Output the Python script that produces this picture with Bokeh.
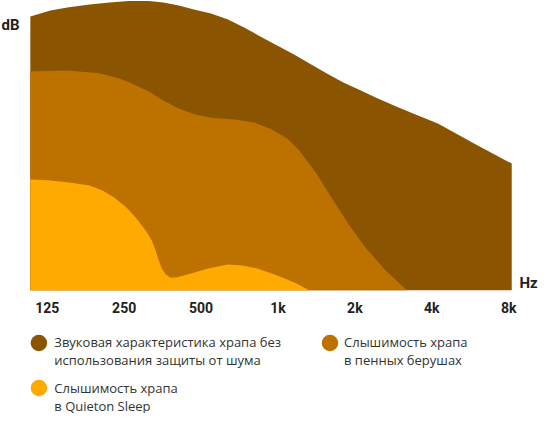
from bokeh.plotting import figure
from bokeh.models import Range1d, FixedTicker
from bokeh.layouts import column
from bokeh.embed import file_html
from bokeh.resources import INLINE
from bokeh.core.properties import value

# ---------------- data ----------------
# x: position in octaves relative to 125 Hz (0 = 125 Hz ... 6 = 8 kHz)
# y: relative sound level (dB, arbitrary scale, 0 = axis baseline)
freq_ticks = [0, 1, 2, 3, 4, 5, 6]
freq_labels = ["125", "250", "500", "1k", "2k", "4k", "8k"]

snore_x = [-0.22, 0.04, 0.26, 0.55, 0.81, 1.06, 1.32, 1.51, 1.71, 1.92, 2.13, 2.35, 2.56,
           2.77, 2.99, 3.21, 3.41, 3.63, 3.85, 4.05, 4.27, 4.53, 4.82, 5.08, 5.55, 6.04]
snore_db = [97.2, 99.3, 100.4, 101.4, 102.1, 102.7, 102.7, 102.1, 101.1, 99.6, 98.2, 96.1, 93.3,
            90.1, 86.9, 83.7, 80.5, 77.0, 73.8, 71.3, 68.4, 65.3, 62.1, 59.2, 52.1, 45.0]

foam_x = [-0.22, 0.26, 0.68, 0.94, 1.10, 1.32, 1.51, 1.71, 1.92, 2.13, 2.44, 2.69, 2.90,
          3.12, 3.28, 3.50, 3.72, 3.92, 4.14, 4.40, 4.68]
foam_db = [77.7, 78.0, 77.0, 75.2, 73.4, 70.6, 67.4, 64.5, 62.4, 61.3, 60.6, 59.6, 57.4,
           53.9, 49.6, 41.5, 31.9, 23.4, 15.2, 7.1, 0.0]

quieton_x = [-0.22, 0.04, 0.29, 0.55, 0.72, 0.87, 1.03, 1.15, 1.28, 1.36, 1.41, 1.45, 1.49,
             1.54, 1.60, 1.68, 1.87, 2.09, 2.35, 2.54, 2.73, 2.92, 3.08, 3.24, 3.41]
quieton_db = [39.4, 39.0, 38.3, 37.2, 35.5, 33.0, 29.4, 25.9, 21.3, 17.7, 14.2, 10.6, 7.8,
              5.7, 4.6, 4.6, 6.0, 7.8, 9.2, 8.9, 7.8, 6.0, 4.3, 2.5, 0.0]

legend_labels = ["Звуковая характеристика храпа без\nиспользования защиты от шума",
                 "Слышимость храпа\nв пенных берушах",
                 "Слышимость храпа\nв Quieton Sleep"]

axis_names = ["Hz", "dB"]

colors = ["#8B5400", "#BD7200", "#FFAA00"]

# ---------------- main chart ----------------
W = 539
MAIN_H = 322
p = figure(width=W, height=MAIN_H, output_backend="svg", toolbar_location=None,
           x_range=Range1d(-0.608, 6.401), y_range=Range1d(0, 102.84),
           y_axis_location=None, title=None,
           min_border_left=0, min_border_right=0, min_border_top=0, min_border_bottom=32)
p.outline_line_color = None
p.xgrid.visible = False
p.ygrid.visible = False
p.background_fill_color = "white"
p.border_fill_color = "white"

p.varea(x=snore_x, y1=0, y2=snore_db, fill_color=colors[0])
p.varea(x=foam_x, y1=0, y2=foam_db, fill_color=colors[1])
p.varea(x=quieton_x, y1=0, y2=quieton_db, fill_color=colors[2])

ax = p.xaxis[0]
ax.ticker = FixedTicker(ticks=freq_ticks)
ax.major_label_overrides = {t: l for t, l in zip(freq_ticks, freq_labels)}
ax.axis_line_color = None
ax.major_tick_line_color = None
ax.minor_tick_line_color = None
ax.major_tick_out = 0
ax.major_tick_in = 0
ax.major_label_standoff = 9
ax.major_label_text_font = "Roboto"
ax.major_label_text_font_style = "bold"
ax.major_label_text_font_size = "14px"
ax.major_label_text_color = "#222222"

# axis unit names (Hz at the end of the x axis, dB at the top left)
p.text(x=[6.14, -0.595], y=[2.6, 94.0], text=axis_names, text_font=value("Roboto"),
       text_font_style="bold", text_font_size="15px", text_color="#222222",
       text_baseline="alphabetic", text_align="left")

# ---------------- legend ----------------
LH = 413 - MAIN_H
lg = figure(width=W, height=LH, output_backend="svg", toolbar_location=None,
            x_range=Range1d(0, W), y_range=Range1d(LH, 0),
            x_axis_location=None, y_axis_location=None, title=None,
            min_border_left=0, min_border_right=0, min_border_top=0, min_border_bottom=0)
lg.outline_line_color = None
lg.xgrid.visible = False
lg.ygrid.visible = False

mx = [38.4, 329.5, 38.4]
my = [20.5, 20.5, 65.5]
tx = [53.8, 343.5, 53.8]
ty = [19.0, 19.0, 65.0]
line_gap = 18.0

lg.scatter(x=mx, y=my, size=16.5, marker="circle", fill_color=colors, line_color=None)

txt_x, txt_y, txt = [], [], []
for lab, x0, y0 in zip(legend_labels, tx, ty):
    for i, line in enumerate(lab.split("\n")):
        txt_x.append(x0)
        txt_y.append(y0 + i * line_gap)
        txt.append(line)
lg.text(x=txt_x, y=txt_y, text=txt, text_font=value("Open Sans"), text_font_size="13px",
        text_color="#333333", text_baseline="alphabetic", text_align="left")

layout = column(p, lg, spacing=0)
open("out.html", "w").write(file_html(layout, INLINE))
